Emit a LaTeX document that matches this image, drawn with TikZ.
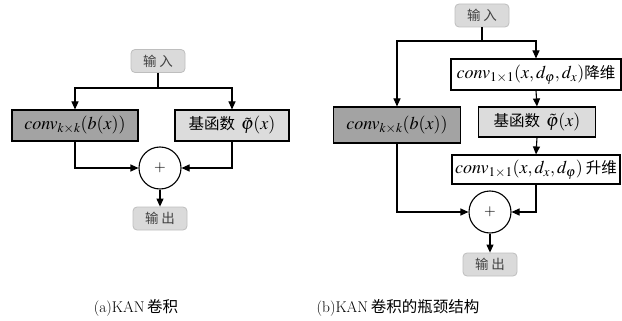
\documentclass[tikz,border=0pt]{standalone}
\usepackage{fontspec}
\usepackage{mathptmx}
\newfontfamily\cjk{Noto Sans CJK SC}
\usetikzlibrary{arrows.meta}
\definecolor{Dfill}{RGB}{163,163,163}
\definecolor{Lfill}{RGB}{220,220,220}
\definecolor{Ifill}{RGB}{218,218,218}
\definecolor{Iline}{RGB}{190,190,190}
\newcommand{\zh}[1]{{\cjk\fontsize{15.5}{16}\selectfont #1}}
\tikzset{
  blk/.style={draw,line width=1.1pt,inner sep=0pt,font=\fontsize{18}{19}\selectfont},
  iobox/.style={draw=Iline,fill=Ifill,rounded corners=4pt,line width=0.8pt,minimum width=54pt,minimum height=23pt,inner sep=0pt,font=\cjk\fontsize{13.5}{14}\selectfont\color{black!75}},
  sumnode/.style={circle,draw,line width=1.1pt,minimum size=42pt,inner sep=0pt,font=\fontsize{15}{15}\selectfont},
  flow/.style={line width=1.1pt,-{Triangle[length=8pt,width=7pt]}},
  captext/.style={font=\fontsize{15.5}{16}\selectfont},
}
\begin{document}
\begin{tikzpicture}[x=1pt,y=-1pt,line cap=butt,line join=miter]
\path[use as bounding box] (0,0) rectangle (622,321);
% (a)
\node[iobox] (in1) at (158,61) {输\hspace{3pt}入};
\node[blk,fill=Dfill,minimum width=126pt,minimum height=31pt] (conv1) at (75,125.5) {$conv_{k\times k}(b(x))$};
\node[blk,fill=Lfill,minimum width=114pt,minimum height=31pt] (basis1) at (232,125.5) {\zh{基函数}\hspace{6pt}$\tilde{\varphi}(x)$};
\node[sumnode] (sum1) at (160,168) {$+$};
\node[iobox] (out1) at (160,218.5) {输\hspace{3pt}出};
\coordinate (split1) at (158,88);
\draw[line width=1.1pt] (in1.south) -- (split1);
\draw[flow] (split1) -| (conv1.north);
\draw[flow] (split1) -| (basis1.north);
\draw[flow] (conv1.south) |- (sum1.west);
\draw[flow] (basis1.south) |- (sum1.east);
\draw[flow] (sum1.south) -- (out1.north);
% (b)
\node[iobox] (in2) at (482,15.5) {输\hspace{3pt}入};
\node[blk,fill=Dfill,minimum width=127pt,minimum height=36pt] (conv2) at (397,125) {$conv_{k\times k}(b(x))$};
\node[blk,fill=white,minimum width=170pt,minimum height=31pt] (down1) at (536,74.5) {$conv_{1\times1}(x,d_\varphi,d_x)$\zh{降维}};
\node[blk,fill=Lfill,minimum width=117pt,minimum height=30pt] (basis2) at (537,122) {\zh{基函数}\hspace{6pt}\boldmath$\tilde{\varphi}(x)$};
\node[blk,fill=white,minimum width=168pt,minimum height=29pt] (up1) at (536,169.5) {$conv_{1\times1}(x,d_x,d_\varphi)$\hspace{3pt}\zh{升维}};
\node[sumnode] (sum2) at (490,212) {$+$};
\node[iobox] (out2) at (490,264.5) {输\hspace{3pt}出};
\coordinate (split2) at (482,41);
\draw[line width=1.1pt] (in2.south) -- (split2);
\draw[flow] (split2) -| (conv2.north);
\draw[flow] (split2) -| (down1.north);
\draw[flow] (down1.south) -- (basis2.north);
\draw[flow] (basis2.south) -- (up1.north);
\draw[flow] (conv2.south) |- (sum2.west);
\draw[flow] (up1.south) |- (sum2.east);
\draw[flow] (sum2.south) -- (out2.north);
% captions
\node[captext] (cap1) at (136,308) {(a)KAN\,{\cjk 卷积}};
\node[captext] (cap2) at (398,308) {(b)KAN\,{\cjk 卷积的瓶颈结构}};
\end{tikzpicture}
\end{document}
